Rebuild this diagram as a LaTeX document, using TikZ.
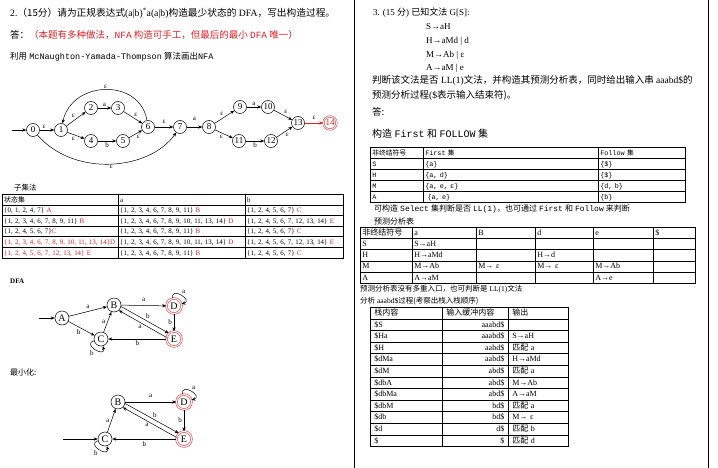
\documentclass[tikz,border=0pt]{standalone}
\usepackage{fontspec}
\setmainfont{Liberation Serif}
\setmonofont{Liberation Mono}
\newfontfamily\cjk{Noto Sans CJK SC}
\usetikzlibrary{arrows.meta,matrix,calc}
\definecolor{myred}{RGB}{215,35,40}
\newcommand\zh[1]{{\cjk #1}}
\newcommand\rd[1]{\textcolor{myred}{#1}}
\newcommand\fs[1]{\fontsize{#1}{#1}\selectfont}
\tikzset{
  tx/.style={anchor=west, inner sep=0pt},
  ns/.style={circle, draw, line width=.5pt, minimum size=13pt, inner sep=0pt, font=\fs{9}},
  nacc/.style={ns, draw=myred, text=myred, double, double distance=1pt},
  ds/.style={circle, draw, line width=.5pt, minimum size=14pt, inner sep=0pt, font=\fs{10}},
  dacc/.style={ds, draw=myred, double, double distance=1.2pt, minimum size=15pt},
  arr/.style={-{Stealth[length=4pt,width=3.2pt]}, line width=.5pt},
  lab/.style={font=\fs{7}, inner sep=1pt},
  cell/.style={draw, line width=.5pt, anchor=center, inner xsep=2pt, inner ysep=0pt, outer sep=0pt, align=left, text height=0.72em, text depth=0.22em},
  tbl/.style={matrix of nodes, nodes in empty cells, row sep=-.5pt, column sep=-.5pt, anchor=north west, inner sep=0pt, outer sep=0pt},
}
\begin{document}
\begin{tikzpicture}[x=1pt,y=-1pt]
\useasboundingbox (0,0) rectangle (718,468);
\fill[white] (0,0) rectangle (718,468);
% frame lines
\draw[line width=1pt] (354,0) -- (354,468);
\draw[line width=1pt] (708,0) -- (708,468);

% ---------------- left column text
\node[tx,font=\fs{9.7}] (t1) at (10,13) {2.\zh{（15分）请为正规表达式}(a|b)\textsuperscript{*}a(a|b)\zh{构造最少状态的} DFA\zh{，写出构造过程。}};
\node[tx,font=\fs{9.5}] (t2) at (10,35) {\zh{答：}\rd{\zh{（本题有多种做法，}\texttt{NFA}\zh{ 构造可手工，但最后的最小 }\texttt{DFA}\zh{ 唯一）}}};
\node[tx,font=\fs{8.5}] (t3) at (10,57) {\zh{利用} \texttt{McNaughton-Yamada-Thompson} \zh{算法画出}\texttt{NFA}};

% ---------------- NFA
\coordinate (s0) at (12,130);
\node[ns] (n0) at (33,130) {0};
\node[ns] (n1) at (61,130) {1};
\node[ns] (n2) at (91,108) {2};
\node[ns] (n3) at (118,108) {3};
\node[ns] (n4) at (91,141) {4};
\node[ns] (n5) at (123,141) {5};
\node[ns] (n6) at (148,127) {6};
\node[ns] (n7) at (180,127) {7};
\node[ns] (n8) at (209,127) {8};
\node[ns] (n9) at (240,107) {9};
\node[ns] (n10) at (268,107) {10};
\node[ns] (n11) at (239,141) {11};
\node[ns] (n12) at (271,141) {12};
\node[ns] (n13) at (298,123) {13};
\node[nacc] (n14) at (330,123) {14};
\draw[arr] (s0) -- (n0);
\draw[arr] (n0) -- node[lab,above,pos=.3]{ε} (n1);
\draw[arr] (n1) -- node[lab,above left]{ε} (n2);
\draw[arr] (n2) -- node[lab,above]{a} (n3);
\draw[arr] (n3) -- node[lab,above right]{ε} (n6);
\draw[arr] (n1) -- node[lab,below left]{ε} (n4);
\draw[arr] (n4) -- node[lab,below]{b} (n5);
\draw[arr] (n5) -- node[lab,below right]{ε} (n6);
\draw[arr] (n6) .. controls (140,78) and (72,80) .. node[lab,above]{ε} (n1);
\draw[arr] (n6) -- node[lab,above=2pt]{ε} (n7);
\draw[arr] (n0) .. controls (75,178) and (150,170) .. node[lab,below]{ε} (n7);
\draw[arr] (n7) -- node[lab,above=5pt]{a} (n8);
\draw[arr] (n8) -- node[lab,above left]{ε} (n9);
\draw[arr] (n9) -- node[lab,above]{a} (n10);
\draw[arr] (n10) -- node[lab,above right]{ε} (n13);
\draw[arr] (n8) -- node[lab,below left]{ε} (n11);
\draw[arr] (n11) -- node[lab,below]{b} (n12);
\draw[arr] (n12) -- node[lab,below right]{ε} (n13);
\draw[arr,draw=myred] (n13) -- node[lab,above=2pt]{ε} (n14);

% ---------------- subset table
\node[tx,font=\fs{7.5}] (ss) at (14,188) {\zh{子集法}};
\matrix (T1) [tbl, nodes={cell, font=\fs{6.9}, minimum height=10.6pt},
  column 1/.style={nodes={text width=112pt}},
  column 2/.style={nodes={text width=123pt}},
  column 3/.style={nodes={text width=94pt}}] at (2,194) {
\zh{状态集} & a & b \\
\{0, 1, 2, 4, 7\} \rd{A} & \{1, 2, 3, 4, 6, 7, 8, 9, 11\} \rd{B} & \{1, 2, 4, 5, 6, 7\} \rd{C} \\
\{1, 2, 3, 4, 6, 7, 8, 9, 11\} \rd{B} & \{1, 2, 3, 4, 6, 7, 8, 9, 10, 11, 13, 14\} \rd{D} & \{1, 2, 4, 5, 6, 7, 12, 13, 14\} \rd{E} \\
\{1, 2, 4, 5, 6, 7\}\rd{C} & \{1, 2, 3, 4, 6, 7, 8, 9, 11\} \rd{B} & \{1, 2, 4, 5, 6, 7\} \rd{C} \\
\rd{\{1, 2, 3, 4, 6, 7, 8, 9, 10, 11, 13, 14\}D} & \{1, 2, 3, 4, 6, 7, 8, 9, 10, 11, 13, 14\} \rd{D} & \{1, 2, 4, 5, 6, 7, 12, 13, 14\} \rd{E} \\
\rd{\{1, 2, 4, 5, 6, 7, 12, 13, 14\} E} & \{1, 2, 3, 4, 6, 7, 8, 9, 11\} \rd{B} & \{1, 2, 4, 5, 6, 7\} \rd{C} \\
};

% ---------------- DFA
\node[tx,font=\fs{7}\bfseries] (dl) at (10,281) {DFA};
\coordinate (s1) at (39,318);
\node[ds] (A) at (62,318) {A};
\node[ds] (B) at (114,305) {B};
\node[ds] (C) at (101,339) {C};
\node[dacc] (D) at (174,306) {D};
\node[dacc] (E) at (174,339) {E};
\draw[arr] (s1) -- (A);
\draw[arr] (A) -- node[lab,above=2pt]{a} (B);
\draw[arr] (A) -- node[lab,below left]{b} (C);
\draw[arr] (C) -- node[lab,left=1pt]{a} (B);
\draw[arr] (B) -- node[lab,above=3pt]{a} (D);
\draw[arr] (D) to[out=100,in=15,distance=13pt] node[lab,above right]{a} (D);
\draw[arr] (D) -- node[lab,left=1pt]{b} (E);
\draw[arr] (B.-12) -- node[lab,above right]{b} (E.132);
\draw[arr] (E.168) -- node[lab,below left]{a} (B.-48);
\draw[arr] (E) -- node[lab,below]{b} (C);
\draw[arr] (C) to[out=195,in=285,distance=13pt] node[lab,below left]{b} (C);

% ---------------- minimized DFA
\node[tx,font=\fs{8}] (ml) at (10,372) {\zh{最小化:}};
\coordinate (s2) at (63,439);
\node[ds] (mB) at (118,402) {B};
\node[ds] (mC) at (105,439) {C};
\node[dacc] (mD) at (184,402) {D};
\node[dacc] (mE) at (184,439) {E};
\draw[arr] (s2) -- (mC);
\draw[arr] (mC) -- node[lab,left=1pt]{a} (mB);
\draw[arr] (mB) -- node[lab,above=3pt]{a} (mD);
\draw[arr] (mD) to[out=100,in=15,distance=13pt] node[lab,above right]{a} (mD);
\draw[arr] (mD) -- node[lab,left=1pt]{b} (mE);
\draw[arr] (mB.-12) -- node[lab,above right]{b} (mE.132);
\draw[arr] (mE.168) -- node[lab,below left]{a} (mB.-48);
\draw[arr] (mE) -- node[lab,below=1pt]{b} (mC);
\draw[arr] (mC) to[out=195,in=285,distance=13pt] node[lab,below left]{b} (mC);

% ---------------- right column
\node[tx,font=\fs{9}] (r1) at (373,13) {3. (15 \zh{分}) \zh{已知文法} G[S]:};
\node[tx,font=\fs{9}] (r2) at (426,27) {S→aH};
\node[tx,font=\fs{9}] (r3) at (426,41) {H→aMd | d};
\node[tx,font=\fs{9}] (r4) at (426,55) {M→Ab | ε};
\node[tx,font=\fs{9}] (r5) at (426,68) {A→aM | e};
\node[tx,font=\fs{9.5}] (r6) at (372,80) {\zh{判断该文法是否} LL(1)\zh{文法，并构造其预测分析表，同时给出输入串} aaabd\$\zh{的}};
\node[tx,font=\fs{9.5}] (r7) at (372,96) {\zh{预测分析过程}(\$\zh{表示输入结束符)。}};
\node[tx,font=\fs{9.5}] (r8) at (372,112) {\zh{答:}};
\node[tx,font=\fs{10}] (r9) at (372,134) {\zh{构造} \texttt{First} \zh{和} \texttt{FOLLOW} \zh{集}};

\matrix (T2) [tbl, nodes={cell, font=\fs{6.8}\ttfamily, minimum height=11pt},
  column 1/.style={nodes={text width=49pt}},
  column 2/.style={nodes={text width=171pt}},
  column 3/.style={nodes={text width=83pt}}] at (370,147) {
\zh{非终结符号} & First \zh{集} & Follow \zh{集} \\
S & \{a\} & \{\$\} \\
H & \{a, d\} & \{\$\} \\
M & \{a, e, ε\} & \{d, b\} \\
A & ~\{a, e\} & \{b\} \\
};

\node[tx,font=\fs{8}] (r10) at (374,209) {\zh{可构造} \texttt{Select} \zh{集判断是否} \texttt{LL(1)}\zh{，也可通过} \texttt{First} \zh{和} \texttt{Follow} \zh{来判断}};
\node[tx,font=\fs{8}] (r11) at (374,221) {\zh{预测分析表}};

\matrix (T3) [tbl, nodes={cell, font=\fs{8}, minimum height=11.2pt},
  column 1/.style={nodes={text width=48pt}},
  column 2/.style={nodes={text width=60pt}},
  column 3/.style={nodes={text width=55pt}},
  column 4/.style={nodes={text width=54pt}},
  column 5/.style={nodes={text width=56pt}},
  column 6/.style={nodes={text width=38pt}}] at (360,227) {
\zh{非终结符号} & a & B & d & e & \$ \\
S & S→aH & & & & \\
H & H→aMd & & H→d & & \\
M & M→Ab & M→ ε & M→ ε & M→Ab & \\
A & A→aM & & & A→e & \\
};

\node[tx,font=\fs{7.5}] (r12) at (360,289) {\zh{预测分析表没有多重入口，也可判断是} LL(1)\zh{文法}};
\node[tx,font=\fs{7.5}] (r13) at (360,301) {\zh{分析} aaabd\$\zh{过程(考察出栈入栈顺序)}};

\matrix (T4) [tbl, nodes={cell, font=\fs{8}, minimum height=11.6pt, inner xsep=4pt},
  column 1/.style={nodes={text width=64pt}},
  column 2/.style={nodes={text width=58pt, align=right}},
  column 3/.style={nodes={text width=52pt}}] at (370,307) {
\zh{栈内容} & \zh{输入缓冲内容}\hspace*{12pt} & \zh{输出} \\
\$S & aaabd\$ & \\
\$Ha & aaabd\$ & S→aH \\
\$H & aabd\$ & \zh{匹配} a \\
\$dMa & aabd\$ & H→aMd \\
\$dM & abd\$ & \zh{匹配} a \\
\$dbA & abd\$ & M→Ab \\
\$dbMa & abd\$ & A→aM \\
\$dbM & bd\$ & \zh{匹配} a \\
\$db & bd\$ & M→ ε \\
\$d & d\$ & \zh{匹配} b \\
\$ & \$ & \zh{匹配} d \\
};
\end{tikzpicture}
\end{document}
